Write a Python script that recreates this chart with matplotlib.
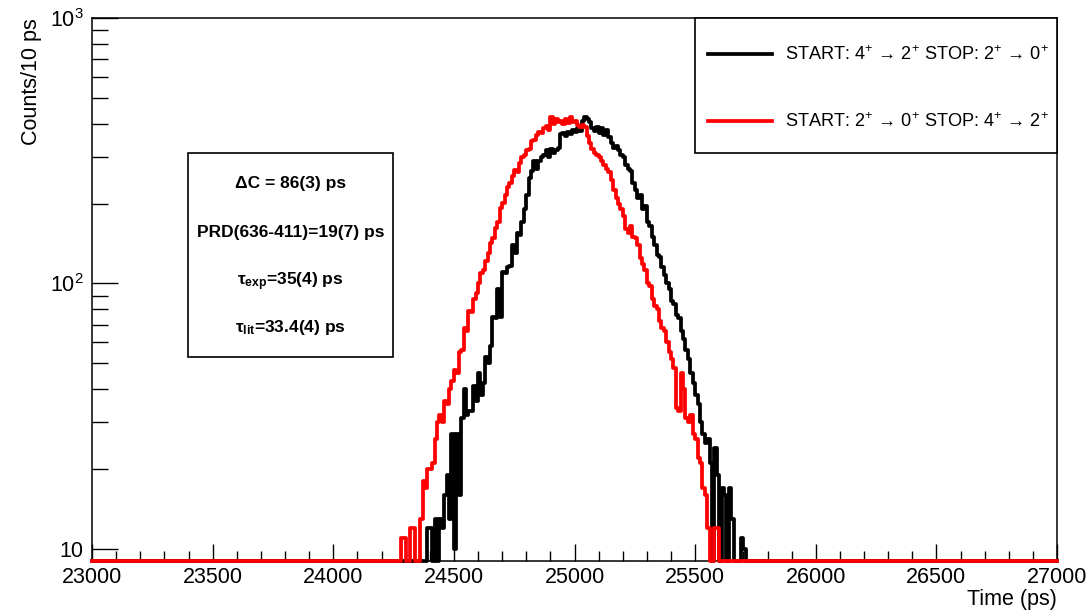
import numpy as np
import matplotlib
matplotlib.use('Agg')
import matplotlib.pyplot as plt
from matplotlib.patches import Rectangle
from matplotlib.ticker import (FixedLocator, FixedFormatter, MultipleLocator,
                               LogLocator, NullFormatter)

plt.rcParams['font.family'] = ['Liberation Sans', 'DejaVu Sans']
plt.rcParams['mathtext.fontset'] = 'custom'
plt.rcParams['mathtext.rm'] = 'Liberation Sans'
plt.rcParams['mathtext.it'] = 'Liberation Sans:italic'
plt.rcParams['mathtext.bf'] = 'Liberation Sans:bold'

# histogram range, 10 ps bins
x_min, x_max, bin_width = 23000, 27000, 10

# START 4+ -> 2+, STOP 2+ -> 0+ (black), counts from 24390 ps on
black_first = 24390
black_counts = [
    12, 12, 0, 13, 0, 13, 12, 16, 19, 13,
    27, 10, 27, 16, 31, 40, 32, 33, 33, 41,
    36, 46, 38, 42, 53, 50, 58, 75, 74, 95,
    75, 110, 109, 115, 116, 140, 130, 155, 152, 170,
    190, 215, 250, 265, 290, 270, 290, 300, 305, 318,
    300, 322, 310, 318, 324, 365, 369, 360, 372, 365,
    380, 372, 385, 375, 410, 424, 418, 405, 385, 375,
    389, 370, 385, 362, 378, 355, 338, 325, 330, 318,
    305, 300, 280, 270, 265, 238, 225, 210, 215, 190,
    195, 170, 165, 150, 140, 128, 126, 115, 108, 100,
    95, 86, 84, 76, 74, 66, 62, 56, 52, 46,
    42, 38, 35, 30, 27, 25, 26, 21, 0, 24,
    19, 0, 17, 16, 0, 17, 13, 0, 0, 0,
    11, 10,
]

# START 2+ -> 0+, STOP 4+ -> 2+ (red), counts from 24280 ps on
red_first = 24280
red_counts = [
    11, 11, 0, 0, 12, 12, 0, 0, 13, 18,
    17, 20, 20, 21, 26, 30, 32, 30, 36, 35,
    40, 43, 47, 46, 55, 56, 68, 66, 79, 78,
    87, 92, 100, 109, 112, 122, 130, 142, 148, 162,
    170, 192, 201, 215, 231, 240, 255, 267, 263, 285,
    300, 304, 318, 322, 345, 348, 362, 372, 370, 385,
    392, 380, 424, 400, 418, 405, 410, 398, 415, 402,
    422, 405, 410, 395, 388, 395, 390, 360, 338, 320,
    310, 305, 300, 290, 280, 270, 263, 245, 225, 210,
    200, 190, 180, 160, 155, 165, 150, 148, 140, 125,
    118, 112, 100, 98, 87, 82, 80, 72, 68, 66,
    60, 55, 52, 48, 34, 33, 46, 40, 31, 30,
    32, 27, 26, 22, 21, 17, 16, 12, 0, 0,
    12, 12,
]

legend_labels = [
    'START: 4$^{+}$ \u2192 2$^{+}$ STOP: 2$^{+}$ \u2192 0$^{+}$',
    'START: 2$^{+}$ \u2192 0$^{+}$ STOP: 4$^{+}$ \u2192 2$^{+}$',
]
stats_lines = [
    '\u0394C = 86(3) ps',
    'PRD(636-411)=19(7) ps',
    '\u03c4$_{\\mathbf{exp}}$=35(4) ps',
    '\u03c4$_{\\mathbf{lit}}$=33.4(4) ps',
]
y_ticks = [10, 100, 1000]
y_tick_labels = ['10', '$10^{2}$', '$10^{3}$']
y_floor = 9.0


def full_hist(first, counts):
    edges = np.arange(x_min, x_max + bin_width, bin_width)
    values = np.zeros(len(edges) - 1)
    i = (first - x_min) // bin_width
    values[i:i + len(counts)] = counts
    values[values <= 0] = y_floor  # empty bins lie on the frame, like ROOT
    return edges, np.append(values, values[-1])


W, H = 1092, 610
fig = plt.figure(figsize=(W / 100, H / 100), dpi=100)
ax = fig.add_axes([92 / W, 49 / H, 965 / W, 543 / H])

edges, black_vals = full_hist(black_first, black_counts)
_, red_vals = full_hist(red_first, red_counts)
ax.plot(edges, black_vals, drawstyle='steps-post', color='black', lw=2.7,
        clip_on=False, zorder=3, label=legend_labels[0])
ax.plot(edges, red_vals, drawstyle='steps-post', color='#ff0000', lw=2.7,
        clip_on=False, zorder=3, label=legend_labels[1])

ax.set_yscale('log')
ax.set_xlim(x_min, x_max)
ax.set_ylim(y_floor, 1000)
ax.xaxis.set_major_locator(MultipleLocator(500))
ax.xaxis.set_minor_locator(MultipleLocator(100))
ax.yaxis.set_major_locator(FixedLocator(y_ticks))
ax.yaxis.set_major_formatter(FixedFormatter(y_tick_labels))
ax.yaxis.set_minor_locator(LogLocator(base=10, subs=range(2, 10)))
ax.yaxis.set_minor_formatter(NullFormatter())
ax.tick_params(which='both', direction='in', top=False, right=False,
               width=1, labelsize=15.5)
ax.tick_params(axis='x', which='major', length=12, pad=4)
ax.tick_params(axis='x', which='minor', length=7)
ax.tick_params(axis='y', which='major', length=19, pad=6)
ax.tick_params(axis='y', which='minor', length=11.5)
for s in ax.spines.values():
    s.set_linewidth(1.1)

ax.set_xlabel('Time (ps)', fontsize=15.5, loc='right', labelpad=1)
ax.set_ylabel('Counts/10 ps', fontsize=15.5, loc='top', labelpad=6)

# legend box in the top right corner
ax.add_patch(Rectangle((0.6249, 0.7514), 0.3751, 0.2486, transform=ax.transAxes,
                       facecolor='white', edgecolor='black', lw=1.2,
                       zorder=4, clip_on=False))
ax.legend(loc='center left', bbox_to_anchor=(0.6383, 0.8702), frameon=False,
          fontsize=13.1, handlelength=3.5, handletextpad=0.72,
          labelspacing=2.65, borderpad=0, borderaxespad=0).set_zorder(5)

# stats box
ax.add_patch(Rectangle((0.0995, 0.3757), 0.2124, 0.3757, transform=ax.transAxes,
                       facecolor='white', edgecolor='black', lw=1.2, zorder=4))
for txt, yb in zip(stats_lines, [0.6869, 0.5967, 0.5083, 0.4217]):
    ax.text(0.2057, yb, txt, transform=ax.transAxes, ha='center', va='baseline',
            fontsize=12.5, fontweight='bold', zorder=5)

fig.savefig('out.png', dpi=100)
